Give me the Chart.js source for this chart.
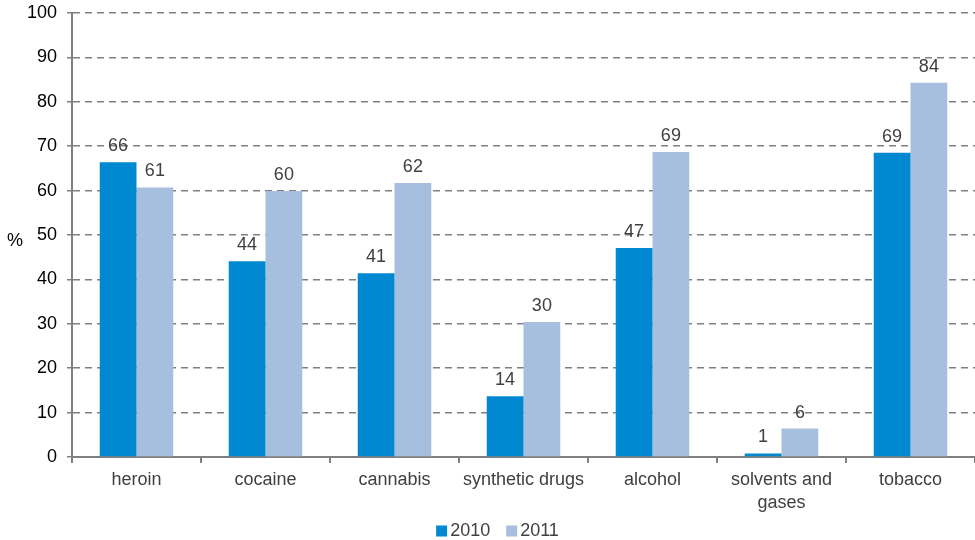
<!DOCTYPE html>
<html>
<head>
<meta charset="utf-8">
<script src="https://cdn.jsdelivr.net/npm/chart.js@4"></script>
<style>
  html, body { margin: 0; padding: 0; background: #fff; }
  #wrap { width: 975px; height: 540px; position: relative; }
</style>
</head>
<body>
<div id="wrap"><canvas id="c"></canvas></div>
<script>
const categories = ["heroin", "cocaine", "cannabis", "synthetic drugs", "alcohol", ["solvents and", "gases"], "tobacco"];
const values2010 = [66.4, 44.1, 41.4, 13.7, 47.1, 0.8, 68.5];
const values2011 = [60.7, 59.9, 61.7, 30.4, 68.7, 6.4, 84.3];
const seriesNames = ["2010", "2011"];
const yTicks = [0, 10, 20, 30, 40, 50, 60, 70, 80, 90, 100];

const FONT = "'Liberation Sans', Arial, sans-serif";

const labelPlugin = {
  id: 'barLabels',
  afterDatasetsDraw(chart) {
    const ctx = chart.ctx;
    ctx.save();
    ctx.font = "18px " + FONT;
    ctx.fillStyle = '#404040';
    ctx.textAlign = 'center';
    ctx.textBaseline = 'bottom';
    chart.data.datasets.forEach((ds, i) => {
      const meta = chart.getDatasetMeta(i);
      meta.data.forEach((bar, j) => {
        ctx.fillText(String(Math.round(ds.data[j])), bar.x, bar.y - 7);
      });
    });
    ctx.restore();
  }
};

const percentPlugin = {
  id: 'percentLabel',
  afterDraw(chart) {
    const ctx = chart.ctx;
    const y = chart.scales.y;
    ctx.save();
    ctx.font = "18px " + FONT;
    ctx.fillStyle = '#000';
    ctx.textAlign = 'left';
    ctx.textBaseline = 'middle';
    ctx.fillText('%', 7, (y.top + y.bottom) / 2 + 6);
    ctx.restore();
  }
};

const legendPlugin = {
  id: 'customLegend',
  afterDraw(chart) {
    const ctx = chart.ctx;
    ctx.save();
    ctx.font = "18px " + FONT;
    ctx.textBaseline = 'middle';
    ctx.textAlign = 'left';
    const box = 11, gap = 3, spacing = 16;
    const items = chart.data.datasets.map(ds => ({ text: ds.label, color: ds.backgroundColor, w: ctx.measureText(ds.label).width }));
    const total = items.reduce((s, it) => s + box + gap + it.w, 0) + spacing * (items.length - 1);
    let x = chart.width / 2 + 10 - total / 2;
    const cy = chart.height - 9;
    items.forEach(it => {
      ctx.fillStyle = it.color;
      ctx.fillRect(x, cy - box / 2, box, box);
      x += box + gap;
      ctx.fillStyle = '#404040';
      ctx.fillText(it.text, x, cy);
      x += it.w + spacing;
    });
    ctx.restore();
  }
};

new Chart(document.getElementById('c'), {
  type: 'bar',
  data: {
    labels: categories,
    datasets: [
      { label: seriesNames[0], data: values2010, backgroundColor: '#0089D0', categoryPercentage: 0.57, barPercentage: 1.0 },
      { label: seriesNames[1], data: values2011, backgroundColor: '#A7BFDF', categoryPercentage: 0.57, barPercentage: 1.0 }
    ]
  },
  options: {
    responsive: true,
    maintainAspectRatio: false,
    animation: false,
    layout: { padding: { top: 13, right: 0, left: 0, bottom: 22 } },
    plugins: {
      legend: { display: false },
      tooltip: { enabled: false }
    },
    scales: {
      x: {
        offset: true,
        afterFit(scale) { scale.height = 61; },
        grid: { display: true, drawOnChartArea: false, offset: true, color: '#808080', tickLength: 6, lineWidth: 2 },
        border: { color: '#808080', width: 2 },
        ticks: { color: '#404040', font: { family: FONT, size: 18, lineHeight: 1.25 }, padding: 6, maxRotation: 0, autoSkip: false }
      },
      y: {
        min: 0, max: 100,
        afterBuildTicks(scale) { scale.ticks = yTicks.map(v => ({ value: v })); },
        afterFit(scale) { scale.width = 72; scale.paddingTop = 0; scale.paddingBottom = 0; },
        grid: { color: '#808080', lineWidth: 1.5, tickLength: 5, tickBorderDash: [] },
        border: { color: '#808080', width: 2, dash: [7, 5] },
        ticks: { color: '#000', font: { family: FONT, size: 18 }, padding: 10 }
      }
    }
  },
  plugins: [labelPlugin, percentPlugin, legendPlugin]
});
</script>
</body>
</html>
